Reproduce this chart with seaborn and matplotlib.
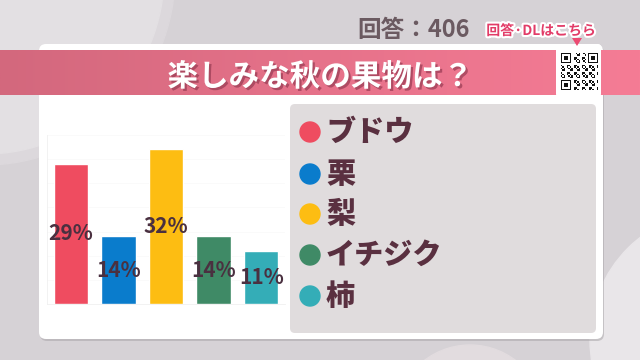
import numpy as np
import pandas as pd
import matplotlib
matplotlib.use("Agg")
import matplotlib.pyplot as plt
import seaborn as sns
from matplotlib.patches import FancyBboxPatch, Circle, Rectangle, Polygon
from matplotlib.colors import LinearSegmentedColormap
import matplotlib.patheffects as pe

# Survey data
fruits = ["ブドウ", "栗", "梨", "イチジク", "柿"]
shares = [29, 14, 32, 14, 11]
colors = ["#ef4c60", "#0a7ccc", "#fdbd12", "#3f8a66", "#34adb7"]
title = "楽しみな秋の果物は？"
answers_label = "回答：406"
qr_caption = "回答·DLはこちら"

sns.set_theme(style="white")
plt.rcParams["font.family"] = ["Noto Sans CJK JP", "DejaVu Sans"]

W, H = 640, 360
fig = plt.figure(figsize=(W / 100, H / 100), dpi=100)
fig.patch.set_facecolor("#d6d2d6")

# Decoration layer in pixel coordinates
bg = fig.add_axes([0, 0, 1, 1], zorder=0)
bg.set_xlim(0, W)
bg.set_ylim(H, 0)
bg.axis("off")

# soft background circles
bg.add_patch(Circle((-15, -25), 190, color="#dcd8dc", zorder=1))
bg.add_patch(Circle((-15, -25), 179, color="#e3e0e3", zorder=1))
bg.add_patch(Circle((720, 340), 130, color="#e9e6e9", zorder=1))
bg.add_patch(Circle((470, 420), 75, color="#e2dcdf", zorder=1))

# card with shadow
bg.add_patch(FancyBboxPatch((40, 46), 564, 295, boxstyle="round,pad=0,rounding_size=7",
                            fc="#a9a5a9", ec="none", alpha=0.55, zorder=2))
bg.add_patch(FancyBboxPatch((39, 44), 564, 295, boxstyle="round,pad=0,rounding_size=7",
                            fc="white", ec="none", zorder=3))

# legend panel
bg.add_patch(FancyBboxPatch((290, 104), 306, 229, boxstyle="round,pad=0,rounding_size=5",
                            fc="#e0dcdd", ec="none", zorder=4))

# gradient banner
grad = np.linspace(0, 1, 256).reshape(1, -1)
banner_cmap = LinearSegmentedColormap.from_list("banner", ["#d3687d", "#e6728a", "#f57c95"])
bg.imshow(grad, cmap=banner_cmap, extent=[0, W, 95, 50], aspect="auto", zorder=5)

# title with drop shadow
bg.text(320, 77, title, fontsize=22, fontweight="bold", color="white",
        ha="center", va="center", zorder=7,
        path_effects=[pe.withSimplePatchShadow(offset=(1.6, -1.6),
                                               shadow_rgbFace="#9c3e56", alpha=0.75)])

# QR code box
bg.add_patch(FancyBboxPatch((556, 44), 45, 53, boxstyle="round,pad=0,rounding_size=3",
                            fc="white", ec="none", zorder=6))
bg.add_patch(Polygon([[572, 38], [582, 38], [577, 46]], closed=True, fc="#ec4a72",
                     ec="none", zorder=8))
n = 25
x0, y0, cell = 561, 53, 37 / n
qr = np.zeros((n, n), dtype=bool)
for i in range(n):
    for j in range(n):
        qr[i, j] = ((i * 7 + j * 13 + i * j) % 5) < 2
for (r, c) in [(0, 0), (0, n - 7), (n - 7, 0)]:
    qr[max(r - 1, 0):r + 8, max(c - 1, 0):c + 8] = False
    qr[r:r + 7, c:c + 7] = True
    qr[r + 1:r + 6, c + 1:c + 6] = False
    qr[r + 2:r + 5, c + 2:c + 5] = True
for i in range(n):
    for j in range(n):
        if qr[i, j]:
            bg.add_patch(Rectangle((x0 + j * cell, y0 + i * cell), cell, cell,
                                   fc="#111111", ec="none", zorder=7))

# header texts
bg.text(357, 30, answers_label, fontsize=17, fontweight="bold", color="#6b5a61",
        ha="left", va="center", zorder=6)
bg.text(541, 31, qr_caption, fontsize=10, fontweight="bold", color="#e23c68",
        ha="center", va="center", zorder=8,
        path_effects=[pe.withStroke(linewidth=3, foreground="white")])

# legend entries
legend_y = [132, 174, 214, 255, 296]
for name, col, yy in zip(fruits, colors, legend_y):
    bg.add_patch(Circle((310, yy), 10, color=col, zorder=6))
    bg.text(326, yy, name, fontsize=21, fontweight="heavy", color="#5a3040",
            ha="left", va="center", zorder=6)

# bar chart
ax = fig.add_axes([47 / W, (H - 304) / H, (285 - 47) / W, (304 - 135) / H], zorder=5)
ax.set_facecolor("none")
df = pd.DataFrame({"fruit": fruits, "share": shares})
sns.barplot(data=df, x="fruit", y="share", hue="fruit", palette=colors,
            width=0.72, legend=False, ax=ax, saturation=1)
ax.set_xlim(-0.5, 4.5)
ax.set_ylim(0, 35)
ax.set_yticks(range(0, 36, 5))
ax.grid(axis="y", color="#f8f8f8", linewidth=0.5)
ax.set_axisbelow(True)
ax.tick_params(left=False, bottom=False, labelleft=False, labelbottom=False)
ax.set_xlabel("")
ax.set_ylabel("")
for side in ["top", "right"]:
    ax.spines[side].set_visible(False)
ax.spines["left"].set_color("#f0f0f0")
ax.spines["bottom"].set_color("#f0f0f0")
ax.spines["left"].set_linewidth(0.6)
ax.spines["bottom"].set_linewidth(0.6)

for cont in ax.containers:
    ax.bar_label(cont, labels=[f"{v:.0f}%" for v in cont.datavalues],
                 label_type="center", fontsize=15, fontweight="bold",
                 color="#4a3040")

fig.savefig("out.png", dpi=100)
